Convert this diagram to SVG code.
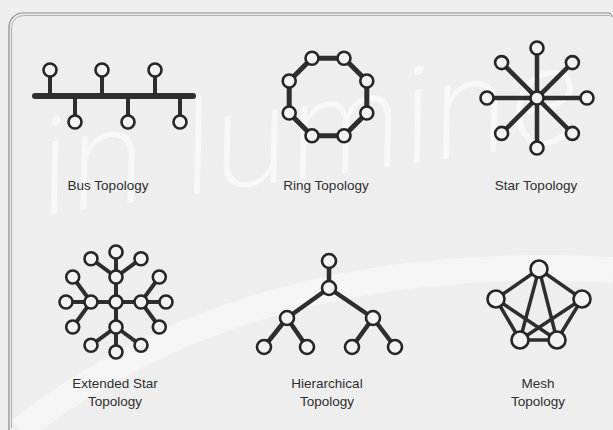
<svg xmlns="http://www.w3.org/2000/svg" width="613" height="430" viewBox="0 0 613 430">
<defs>
<style>
.bg{fill:#eeeeee}
.wm{font-family:Inter,"Liberation Sans",sans-serif;font-weight:200;font-style:italic;fill:#f8f8f8}
.frame{fill:none;stroke:#8a8a8a;stroke-width:1.2}
.frame2{fill:none;stroke:#b0b0b0;stroke-width:1}
.ln{stroke:#2e2e2e;stroke-linecap:round;fill:none}
.nd{fill:#f2f2f2;stroke:#262626;stroke-width:2.6}
.lbl{font-family:"Liberation Sans",Arial,sans-serif;font-size:13.5px;fill:#2e2e2e;text-anchor:middle}
</style>
</defs>
<rect class="bg" x="0" y="0" width="613" height="430"/>
<g id="watermark">
<path d="M20 430 Q 250 250 613 270" fill="none" stroke="#f6f6f6" stroke-width="26" opacity="0.8"/>
<text class="wm" x="45" y="215" font-size="132" transform="rotate(-8 45 215)">in lumine</text>
</g>
<g id="frame">
<path class="frame" d="M9 430 V27 A14 14 0 0 1 23 13 H608 A4 4 0 0 1 612 17"/>
<path class="frame2" d="M11.5 428 V27.5 A12 12 0 0 1 23.5 15.5 H610"/>
</g>
<g id="connectors">
<line class="ln" x1="35" y1="96" x2="193" y2="96" stroke-width="6" stroke-linecap="butt"/>
<g stroke-width="4" class="ln">
<line x1="50" y1="70" x2="50" y2="96"/><line x1="102" y1="70" x2="102" y2="96"/><line x1="155" y1="70" x2="155" y2="96"/>
<line x1="75" y1="96" x2="75" y2="122"/><line x1="128" y1="96" x2="128" y2="122"/><line x1="180" y1="96" x2="180" y2="122"/>
</g>
<polygon class="ln" stroke-width="5" stroke-linejoin="round" points="312,58.2 344,58.2 366.8,81 366.8,113 344,135.8 312,135.8 289.2,113 289.2,81"/>
<g class="ln" stroke-width="4.5">
<line x1="537" y1="48" x2="537" y2="148"/><line x1="487" y1="98" x2="587" y2="98"/>
<line x1="501.6" y1="62.6" x2="572.4" y2="133.4"/><line x1="572.4" y1="62.6" x2="501.6" y2="133.4"/>
</g>
<g class="ln" stroke-width="4">
<line x1="116" y1="277" x2="116" y2="327"/><line x1="91" y1="302" x2="141" y2="302"/>
<line x1="141" y1="302" x2="159.3" y2="277"/><line x1="141" y1="302" x2="166" y2="302"/><line x1="141" y1="302" x2="159.3" y2="327"/>
<line x1="116" y1="327" x2="141" y2="345.3"/><line x1="116" y1="327" x2="116" y2="352"/><line x1="116" y1="327" x2="91" y2="345.3"/>
<line x1="91" y1="302" x2="72.7" y2="327"/><line x1="91" y1="302" x2="66" y2="302"/><line x1="91" y1="302" x2="72.7" y2="277"/>
<line x1="116" y1="277" x2="91" y2="258.7"/><line x1="116" y1="277" x2="116" y2="252"/><line x1="116" y1="277" x2="141" y2="258.7"/>
</g>
<g class="ln" stroke-width="4.5">
<line x1="329" y1="261" x2="329" y2="288"/>
<line x1="329" y1="288" x2="287" y2="318"/><line x1="329" y1="288" x2="373" y2="318"/>
<line x1="287" y1="318" x2="264" y2="347"/><line x1="287" y1="318" x2="307" y2="347"/>
<line x1="373" y1="318" x2="352" y2="347"/><line x1="373" y1="318" x2="395" y2="347"/>
</g>
<g class="ln" stroke-width="3.5">
<line x1="539" y1="269" x2="496" y2="299"/><line x1="539" y1="269" x2="582" y2="299"/>
<line x1="496" y1="299" x2="520" y2="340"/><line x1="582" y1="299" x2="557" y2="340"/>
<line x1="520" y1="340" x2="557" y2="340"/>
<line x1="539" y1="269" x2="520" y2="340"/><line x1="539" y1="269" x2="557" y2="340"/>
<line x1="496" y1="299" x2="557" y2="340"/><line x1="582" y1="299" x2="520" y2="340"/>
</g>
</g>
<g id="bus">
<circle class="nd" cx="50" cy="70" r="6.5"/><circle class="nd" cx="102" cy="70" r="6.5"/><circle class="nd" cx="155" cy="70" r="6.5"/>
<circle class="nd" cx="75" cy="122" r="6.5"/><circle class="nd" cx="128" cy="122" r="6.5"/><circle class="nd" cx="180" cy="122" r="6.5"/>
<text class="lbl" x="108" y="190">Bus Topology</text>
</g>
<g id="ring">
<circle class="nd" cx="312" cy="58.2" r="6.5"/><circle class="nd" cx="344" cy="58.2" r="6.5"/><circle class="nd" cx="366.8" cy="81" r="6.5"/><circle class="nd" cx="366.8" cy="113" r="6.5"/>
<circle class="nd" cx="344" cy="135.8" r="6.5"/><circle class="nd" cx="312" cy="135.8" r="6.5"/><circle class="nd" cx="289.2" cy="113" r="6.5"/><circle class="nd" cx="289.2" cy="81" r="6.5"/>
<text class="lbl" x="326" y="190">Ring Topology</text>
</g>
<g id="star">
<circle class="nd" cx="537" cy="98" r="6.5"/>
<circle class="nd" cx="537" cy="48" r="6.5"/><circle class="nd" cx="537" cy="148" r="6.5"/><circle class="nd" cx="487" cy="98" r="6.5"/><circle class="nd" cx="587" cy="98" r="6.5"/>
<circle class="nd" cx="501.6" cy="62.6" r="6.5"/><circle class="nd" cx="572.4" cy="62.6" r="6.5"/><circle class="nd" cx="501.6" cy="133.4" r="6.5"/><circle class="nd" cx="572.4" cy="133.4" r="6.5"/>
<text class="lbl" x="536" y="190">Star Topology</text>
</g>
<g id="extended-star">
<circle class="nd" cx="116" cy="302" r="6.5"/>
<circle class="nd" cx="116" cy="277" r="6.5"/><circle class="nd" cx="141" cy="302" r="6.5"/><circle class="nd" cx="116" cy="327" r="6.5"/><circle class="nd" cx="91" cy="302" r="6.5"/>
<circle class="nd" cx="166" cy="302" r="6.5"/><circle class="nd" cx="159.3" cy="327" r="6.5"/><circle class="nd" cx="141" cy="345.3" r="6.5"/><circle class="nd" cx="116" cy="352" r="6.5"/>
<circle class="nd" cx="91" cy="345.3" r="6.5"/><circle class="nd" cx="72.7" cy="327" r="6.5"/><circle class="nd" cx="66" cy="302" r="6.5"/><circle class="nd" cx="72.7" cy="277" r="6.5"/>
<circle class="nd" cx="91" cy="258.7" r="6.5"/><circle class="nd" cx="116" cy="252" r="6.5"/><circle class="nd" cx="141" cy="258.7" r="6.5"/><circle class="nd" cx="159.3" cy="277" r="6.5"/>
<text class="lbl" x="115" y="388">Extended Star</text>
<text class="lbl" x="115" y="406">Topology</text>
</g>
<g id="hierarchical">
<circle class="nd" cx="329" cy="261" r="7"/><circle class="nd" cx="329" cy="288" r="7"/>
<circle class="nd" cx="287" cy="318" r="7"/><circle class="nd" cx="373" cy="318" r="7"/>
<circle class="nd" cx="264" cy="347" r="7"/><circle class="nd" cx="307" cy="347" r="7"/><circle class="nd" cx="352" cy="347" r="7"/><circle class="nd" cx="395" cy="347" r="7"/>
<text class="lbl" x="327" y="388">Hierarchical</text>
<text class="lbl" x="327" y="406">Topology</text>
</g>
<g id="mesh">
<circle class="nd" cx="539" cy="269" r="8.5"/><circle class="nd" cx="496" cy="299" r="8.5"/><circle class="nd" cx="582" cy="299" r="8.5"/>
<circle class="nd" cx="520" cy="340" r="8.5"/><circle class="nd" cx="557" cy="340" r="8.5"/>
<text class="lbl" x="538" y="388">Mesh</text>
<text class="lbl" x="538" y="406">Topology</text>
</g>
</svg>
